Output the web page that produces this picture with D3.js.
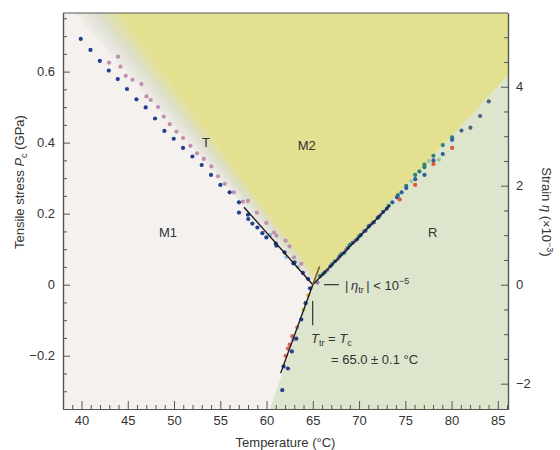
<!DOCTYPE html>
<html><head><meta charset="utf-8">
<script src="https://cdn.jsdelivr.net/npm/d3@7"></script>
<style>
html,body{margin:0;padding:0;background:#fff;}
text{font-family:"Liberation Sans",Arial,Helvetica,sans-serif;fill:#333;}
</style></head>
<body><svg id="c" width="560" height="450"></svg>
<script>
// ---------- data ----------
const xTickValues = [40,45,50,55,60,65,70,75,80,85];
const xTickLabels = ["40","45","50","55","60","65","70","75","80","85"];
const yTickValues = [-0.2,0,0.2,0.4,0.6];
const yTickLabels = ["\u22120.2","0","0.2","0.4","0.6"];
const y2TickValues = [-2,0,2,4];
const y2TickLabels = ["\u22122","0","2","4"];

const blueLeft = [[39.92,0.692],[40.97,0.661],[41.98,0.630],[42.95,0.603],[43.92,0.579],[44.92,0.551],[45.94,0.522],[46.94,0.499],[47.95,0.468],[48.96,0.433],[49.97,0.411],[50.97,0.385],[51.99,0.361],[52.99,0.337],[54.0,0.309],[55.01,0.281],[56.01,0.260],[57.02,0.232],[57.02,0.203],[57.99,0.197],[58.03,0.185],[58.47,0.172],[59.01,0.161],[59.55,0.145],[59.98,0.133],[61.0,0.116],[61.06,0.110],[61.95,0.091],[62.9,0.060],[63.03,0.063],[63.93,0.033],[64.5,0.016]];
const pinkLeft = [[42.98,0.625],[43.95,0.642],[44.21,0.614],[44.78,0.588],[45.51,0.577],[46.48,0.565],[47.02,0.530],[47.48,0.520],[48.27,0.500],[48.89,0.473],[49.54,0.452],[50.26,0.431],[50.97,0.413],[51.77,0.391],[52.48,0.370],[53.21,0.354],[54.04,0.333],[54.75,0.305],[55.48,0.284],[56.45,0.260],[57.45,0.234],[57.99,0.236],[58.96,0.203],[59.98,0.174],[60.80,0.147],[61.06,0.138],[62.06,0.124],[62.49,0.108],[62.96,0.077],[63.76,0.059]];
const lightLeft = [[60.4,0.140],[62.14,0.078],[63.4,0.050]];

const blueRight = [[65.8,0.024],[66.3,0.035],[66.9,0.052],[67.4,0.066],[67.9,0.080],[68.4,0.090],[68.8,0.104],[69.3,0.118],[69.8,0.128],[70.2,0.140],[70.7,0.152],[71.1,0.166],[71.6,0.176],[72.1,0.190],[72.6,0.205],[73.0,0.214],[73.6,0.232],[74.1,0.246],[74.6,0.260],[75.1,0.272],[76.07,0.297],[77.07,0.309],[78.04,0.350],[79.05,0.368],[80.06,0.408]];
const grayRight = [[81.07,0.434],[82.04,0.442],[83.09,0.475],[84.02,0.516]];
const tealRight = [[66.1,0.030],[67.1,0.058],[68.1,0.086],[69.0,0.112],[70.0,0.136],[71.0,0.163],[72.0,0.188],[73.2,0.222],[74.2,0.252],[75.10,0.278],[76.07,0.309],[76.53,0.319],[77.07,0.331],[77.07,0.338],[78.04,0.363],[79.05,0.393],[80.06,0.415]];
const redRight = [[74.4,0.240],[76.07,0.281],[78.04,0.340],[80.06,0.385]];
const lightRight = [[75.64,0.291],[77.54,0.348],[78.62,0.352]];
const pinkRight = [[65.5,0.006],[66.6,0.042],[67.7,0.072],[68.6,0.098],[69.6,0.124],[70.5,0.150],[71.4,0.172],[72.3,0.196]];

const blueLow = [[64.7,-0.010],[64.22,-0.052],[63.76,-0.098],[63.22,-0.152],[62.74,-0.188],[62.31,-0.236],[61.85,-0.230],[61.7,-0.297]];
const redLow = [[62.79,-0.145],[62.5,-0.169],[62.06,-0.200],[62.3,-0.180]];
const pinkLow = [[63.3,-0.120],[62.9,-0.155]];
const yellowLow = [[64.5,-0.030],[64.0,-0.070]];

// fitted lines
const fitLeft = [[57.56,0.218],[65.0,0.0]];
const fitRight = [[65.0,0.0],[73.34,0.224]];
const fitLow = [[61.53,-0.249],[65.0,0.0]];
const fitTip = [[65.0,0.0],[65.73,0.051]];

// phase regions (data units)
const bandA = [[39.08,0.765],[65.0,0.0]];   // M1 side edge of T band
const bandB = [[44.16,0.765],[66.0,0.008]]; // M2 side edge of T band
const regionM2 = [[44.16,0.765],[86.1,0.765],[86.1,0.590],[66.0,0.008]];
const regionR = [[65.0,0.0],[86.1,0.590],[86.1,-0.35],[60.37,-0.35]];

// ---------- layout ----------
const L=63,R=508,T=13,B=409;
const svg = d3.select("#c");
const x = d3.scaleLinear().domain([38,86.1]).range([L,R]);
const y = d3.scaleLinear().domain([-0.35,0.765]).range([B,T]);
const y2 = d3.scaleLinear().domain([-2.512,5.49]).range([B,T]);

svg.append("defs").append("clipPath").attr("id","clip")
  .append("rect").attr("x",L).attr("y",T).attr("width",R-L).attr("height",B-T);
const g = svg.append("g").attr("clip-path","url(#clip)");

g.append("rect").attr("x",L).attr("y",T).attr("width",R-L).attr("height",B-T).attr("fill","#f4f1ef");

// T band gradient strips
const N = 40;
const bandColor = d3.scaleLinear().domain([0,0.45,1]).range(["#f0ede9","#dddfcf","#e3e08f"]).interpolate(d3.interpolateRgb);
const lerp=(p,q,t)=>[p[0]+(q[0]-p[0])*t,p[1]+(q[1]-p[1])*t];
for (let i=0;i<N;i++){
  const t0=i/N, t1=(i+1)/N;
  const top0=lerp(bandA[0],bandB[0],t0), top1=lerp(bandA[0],bandB[0],t1);
  const bot0=lerp(bandA[1],bandB[1],t0), bot1=lerp(bandA[1],bandB[1],t1);
  const pts=[[x(bot0[0]),y(bot0[1])],[x(top0[0]),y(top0[1])-2],[x(top1[0]),y(top1[1])-2],[x(bot1[0]),y(bot1[1])]];
  const c=bandColor((t0+t1)/2);
  g.append("path").attr("d","M"+pts.join("L")+"Z").attr("fill",c).attr("stroke",c).attr("stroke-width",0.6);
}
const poly = d3.line().x(d=>x(d[0])).y(d=>y(d[1]));
g.append("path").attr("d",poly(regionM2)+"Z").attr("fill","#e3e08f");
g.append("path").attr("d",poly(regionR)+"Z").attr("fill","#dde6cd");

// points
function dots(arr,col,r){
  g.append("g").selectAll("circle").data(arr).join("circle")
   .attr("cx",d=>x(d[0])).attr("cy",d=>y(d[1])).attr("r",r||2.1).attr("fill",col);
}
dots(pinkLeft,"#c08fae");
dots(lightLeft,"#8fbcd6");
dots(blueLeft,"#22408e");
dots(pinkRight,"#9a79b5");
dots(lightRight,"#9cc79a");
dots(tealRight,"#2f7f78");
dots(blueRight,"#2f5d9e");
dots(grayRight,"#4b6384");
dots(redRight,"#d9573a");
dots(pinkLow,"#d08aa0");
dots(redLow,"#e0645a");
dots(yellowLow,"#d9b84a");
dots(blueLow,"#22408e");

// fit lines
g.append("path").attr("d",poly(fitLeft)).attr("stroke","#1a1a1a").attr("stroke-width",1.4).attr("fill","none");
g.append("path").attr("d",poly(fitRight)).attr("stroke","#1a1a1a").attr("stroke-width",1.4).attr("fill","none");
g.append("path").attr("d",poly(fitLow)).attr("stroke","#1a1a1a").attr("stroke-width",1.4).attr("fill","none");
g.append("path").attr("d",poly(fitTip)).attr("stroke","#7a5a28").attr("stroke-width",1.6).attr("fill","none");

// region labels
const fs=13;
[["M1",49.35,0.148],["M2",64.34,0.393],["R",77.96,0.148],["T",53.46,0.402]].forEach(d=>{
  svg.append("text").attr("x",x(d[1])).attr("y",y(d[2])).attr("dy","0.36em")
    .attr("text-anchor","middle").attr("font-size",fs).text(d[0]);
});

// annotations
svg.append("line").attr("x1",x(66.21)).attr("x2",x(67.83)).attr("y1",y(0)).attr("y2",y(0)).attr("stroke","#222").attr("stroke-width",1.1);
const t1 = svg.append("text").attr("x",x(68.48)).attr("y",y(0)+5).attr("font-size",fs);
t1.append("tspan").text("|\u2009");
t1.append("tspan").attr("font-style","italic").text("\u03b7");
t1.append("tspan").attr("font-size",9).attr("dy",3).text("tr");
t1.append("tspan").attr("dy",-3).text("\u2009| < 10");
t1.append("tspan").attr("font-size",9).attr("dy",-6).text("\u22125");

svg.append("line").attr("x1",x(64.99)).attr("x2",x(64.99)).attr("y1",y(-0.046)).attr("y2",y(-0.114)).attr("stroke","#222").attr("stroke-width",1.1);
const t2 = svg.append("text").attr("x",311).attr("y",343).attr("font-size",fs);
t2.append("tspan").attr("font-style","italic").text("T");
t2.append("tspan").attr("font-size",9).attr("dy",3).text("tr");
t2.append("tspan").attr("dy",-3).text(" = ");
t2.append("tspan").attr("font-style","italic").text("T");
t2.append("tspan").attr("font-size",9).attr("dy",3).text("c");
svg.append("text").attr("x",331).attr("y",364).attr("font-size",fs).text("= 65.0 \u00b1 0.1 \u00b0C");

// axes
const axCol="#555";
function styleAxis(sel){
  sel.selectAll(".domain").attr("stroke",axCol).attr("stroke-width",1.2);
  sel.selectAll(".tick line").attr("stroke",axCol).attr("stroke-width",1);
  sel.selectAll("text").attr("font-size",fs).attr("fill","#333").attr("font-family","Liberation Sans, Arial, sans-serif");
}
const xMinor = d3.range(39,87,1).filter(v=>v%5!==0);
const yMinor = d3.range(-0.3,0.76,0.05).map(v=>+v.toFixed(2)).filter(v=>Math.abs(Math.round(v*100)%20)!==0);
const y2Minor = d3.range(-2,5.01,0.5).filter(v=>v%2!==0);

const gx = svg.append("g").attr("transform",`translate(0,${B})`)
  .call(d3.axisBottom(x).tickValues(xTickValues).tickFormat((d,i)=>xTickLabels[i]).tickSize(-8).tickSizeOuter(0).tickPadding(7));
styleAxis(gx);
const gxm = svg.append("g").attr("transform",`translate(0,${B})`)
  .call(d3.axisBottom(x).tickValues(xMinor).tickFormat("").tickSize(-4).tickSizeOuter(0));
styleAxis(gxm);

const gy = svg.append("g").attr("transform",`translate(${L},0)`)
  .call(d3.axisLeft(y).tickValues(yTickValues).tickFormat((d,i)=>yTickLabels[i]).tickSize(-7).tickSizeOuter(0).tickPadding(8));
styleAxis(gy);
const gym = svg.append("g").attr("transform",`translate(${L},0)`)
  .call(d3.axisLeft(y).tickValues(yMinor).tickFormat("").tickSize(-4).tickSizeOuter(0));
styleAxis(gym);

const gy2 = svg.append("g").attr("transform",`translate(${R},0)`)
  .call(d3.axisRight(y2).tickValues(y2TickValues).tickFormat((d,i)=>y2TickLabels[i]).tickSize(-7).tickSizeOuter(0).tickPadding(8));
styleAxis(gy2);
const gy2m = svg.append("g").attr("transform",`translate(${R},0)`)
  .call(d3.axisRight(y2).tickValues(y2Minor).tickFormat("").tickSize(-4).tickSizeOuter(0));
styleAxis(gy2m);

svg.append("line").attr("x1",L).attr("x2",R).attr("y1",T).attr("y2",T).attr("stroke",axCol).attr("stroke-width",1.2);

// axis titles
svg.append("text").attr("x",(L+R)/2).attr("y",447).attr("text-anchor","middle").attr("font-size",fs).text("Temperature (\u00b0C)");
const lt = svg.append("text").attr("transform","translate(23.5,182) rotate(-90)").attr("text-anchor","middle").attr("font-size",fs);
lt.append("tspan").text("Tensile stress ");
lt.append("tspan").attr("font-style","italic").text("P");
lt.append("tspan").attr("font-size",9).attr("dy",3).text("c");
lt.append("tspan").attr("dy",-3).text(" (GPa)");
const rt = svg.append("text").attr("transform","translate(541.5,212) rotate(90)").attr("text-anchor","middle").attr("font-size",fs);
rt.append("tspan").text("Strain ");
rt.append("tspan").attr("font-style","italic").text("\u03b7");
rt.append("tspan").text(" (\u00d710");
rt.append("tspan").attr("font-size",9).attr("dy",-5).text("\u22123");
rt.append("tspan").attr("dy",5).text(")");
</script></body></html>
